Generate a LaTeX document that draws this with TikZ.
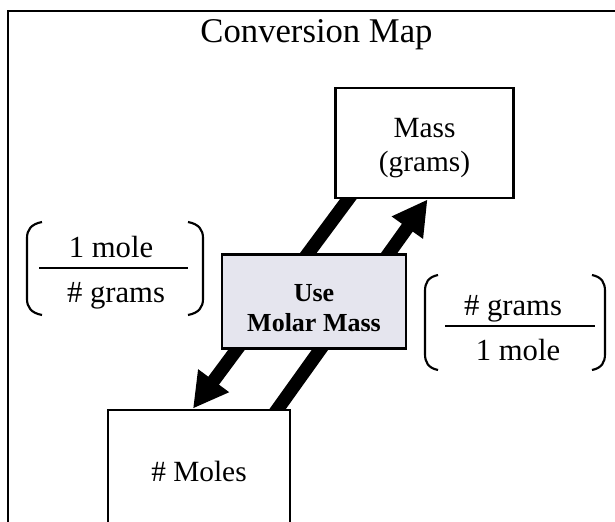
\documentclass[tikz,border=0pt]{standalone}
\usepackage{fontspec}
\setmainfont{Liberation Serif}
\usetikzlibrary{arrows.meta,calc,backgrounds}
\definecolor{molarfill}{RGB}{229,229,238}

\begin{document}
\begin{tikzpicture}[x=0.75pt,y=0.75pt,yscale=-1,
  unitbox/.style={draw,line width=2.2pt,fill=white,align=center,inner sep=0pt},
  convarrow/.style={line width=10pt,-{Triangle[length=26pt,width=27pt]}},
  paren/.style={line width=1.6pt},
  fracbar/.style={line width=2pt},
  fractext/.style={anchor=base,inner sep=0pt,font=\fontsize{23}{27}\selectfont}]
\useasboundingbox (0,0) rectangle (615,522);

%Shape: Frame
\draw [line width=1.6pt] (8,11) rectangle (640,560) ;

% Title Node
\node (title) [anchor=base,inner sep=0pt,font=\fontsize{26}{30}\selectfont] at (316.5,42) {Conversion Map};

%Shape: Rectangle (mass)
\node (mass) [unitbox,minimum width=134pt,minimum height=82.5pt,font=\fontsize{22}{26}\selectfont] at (424.5,143) {\rule{0pt}{22pt}Mass\\(grams)};
%Shape: Rectangle (molar mass)
\node (molar) [unitbox,fill=molarfill,minimum width=138pt,minimum height=70pt,font=\fontsize{19.5}{22.5}\selectfont\bfseries] at (314,301.5) {\rule{0pt}{22pt}Use\\Molar Mass};
%Shape: Rectangle (moles)
\node (moles) [unitbox,minimum width=136.5pt,minimum height=91.5pt,font=\fontsize{22}{26}\selectfont] at (199,471) {\# Moles};

%Arrows behind the boxes
\begin{pgfonlayer}{background}
\draw [convarrow,shorten <=-10pt] ($(mass.south)+(-76.5,0)$) -- ($(moles.north)+(-6,0)$) ;
\draw [convarrow,shorten <=-10pt] ($(moles.north)+(79,0)$) -- ($(mass.south)+(3,0)$) ;
\end{pgfonlayer}

%Fraction: grams to moles
\node (lnum) [fractext] at (111,257) {1 mole};
\node (lden) [fractext] at (116,302) {\# grams};
\draw [fracbar] (39,268) -- (188,268) ;
\draw [paren] (42,222) .. controls (31,224) and (27,230) .. (27,238) -- (27,299) .. controls (27,307) and (31,313) .. (42,315) ;
\draw [paren] (188,222) .. controls (199,224) and (203,230) .. (203,238) -- (203,299) .. controls (203,307) and (199,313) .. (188,315) ;

%Fraction: moles to grams
\node (rnum) [fractext] at (513,315) {\# grams};
\node (rden) [fractext] at (518,360) {1 mole};
\draw [fracbar] (445,326) -- (595,326) ;
\draw [paren] (438,275) .. controls (428,277) and (425,283) .. (425,291) -- (425,354) .. controls (425,362) and (428,368) .. (438,370) ;
\draw [paren] (592,275) .. controls (602,277) and (605,283) .. (605,291) -- (605,354) .. controls (605,362) and (602,368) .. (592,370) ;

\end{tikzpicture}
\end{document}
